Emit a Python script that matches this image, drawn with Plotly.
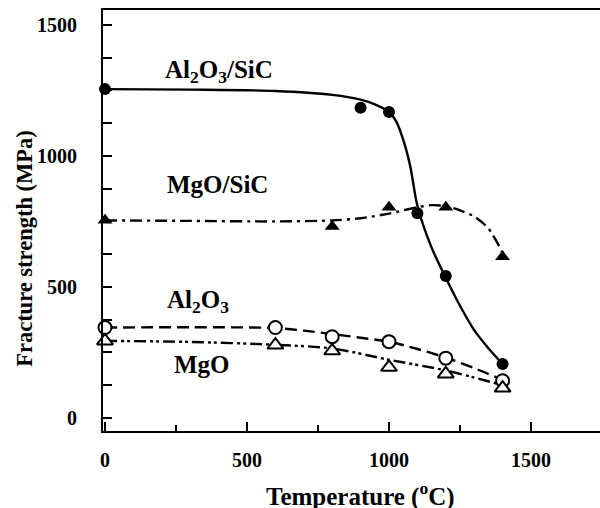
import plotly.graph_objects as go

# ---- measured points (temperature in degC, fracture strength in MPa) ----
temp_al2o3_sic = [0, 900, 1000, 1100, 1200, 1400]
strength_al2o3_sic = [1255, 1184, 1168, 781, 542, 206]

temp_mgo_sic = [0, 800, 1000, 1200, 1400]
strength_mgo_sic = [754, 731, 804, 804, 615]

temp_al2o3 = [0, 600, 800, 1000, 1200, 1400]
strength_al2o3 = [345, 345, 310, 291, 228, 142]

temp_mgo = [0, 600, 800, 1000, 1200, 1400]
strength_mgo = [294, 278, 256, 193, 168, 114]

# ---- hand-drawn trend curves ----
curve_al2o3_sic_x = [0, 300, 600, 800, 900, 950, 1000, 1025, 1050, 1075, 1100, 1150, 1200, 1250, 1300, 1350, 1400]
curve_al2o3_sic_y = [1255, 1253, 1248, 1233, 1215, 1197, 1168, 1133, 1062, 960, 810, 650, 535, 428, 335, 266, 206]

curve_mgo_sic_x = [0, 300, 600, 800, 900, 1000, 1100, 1150, 1200, 1250, 1300, 1350, 1400]
curve_mgo_sic_y = [754, 752, 750, 754, 762, 780, 804, 812, 808, 792, 769, 723, 630]

curve_al2o3_x = [0, 300, 600, 700, 800, 900, 1000, 1100, 1200, 1300, 1400]
curve_al2o3_y = [345, 346, 343, 333, 320, 306, 291, 263, 230, 190, 145]

curve_mgo_x = [0, 300, 600, 800, 1000, 1200, 1400]
curve_mgo_y = [294, 290, 279, 265, 222, 181, 125]

x_ticks = [0, 500, 1000, 1500]
y_ticks = [0, 500, 1000, 1500]

FONT = "Liberation Serif"

fig = go.Figure()

def curve(x, y, dash):
    fig.add_trace(go.Scatter(
        x=x, y=y, mode="lines", hoverinfo="skip", showlegend=False,
        line=dict(color="black", width=2.4, dash=dash, shape="spline", smoothing=0.8),
    ))

def points(x, y, symbol, filled, size):
    fig.add_trace(go.Scatter(
        x=x, y=y, mode="markers", showlegend=False, cliponaxis=False,
        marker=dict(symbol=symbol, size=size,
                    color="black" if filled else "white",
                    line=dict(color="black", width=0 if filled else 2)),
    ))

curve(curve_al2o3_sic_x, curve_al2o3_sic_y, "solid")
curve(curve_mgo_sic_x, curve_mgo_sic_y, "12px,5px,3px,5px")
curve(curve_al2o3_x, curve_al2o3_y, "12px,6px")
curve(curve_mgo_x, curve_mgo_y, "12px,4px,3px,3px,3px,4px")

points(temp_al2o3_sic, strength_al2o3_sic, "circle", True, 12)
points(temp_mgo_sic, strength_mgo_sic, "triangle-up", True, 13)
points(temp_al2o3, strength_al2o3, "circle", False, 13)
points(temp_mgo, strength_mgo, "triangle-up", False, 14)

label_font = dict(family=FONT, size=25, color="black", weight="bold")
for lx, ly, txt in [(401, 1324, "Al<sub>2</sub>O<sub>3</sub>/SiC"),
                    (396, 890, "MgO/SiC"),
                    (327, 443, "Al<sub>2</sub>O<sub>3</sub>"),
                    (343, 202, "MgO")]:
    fig.add_annotation(x=lx, y=ly, text=txt, showarrow=False, font=label_font,
                       xanchor="center", yanchor="middle")

fig.add_annotation(xref="paper", yref="paper", x=0.519, y=-0.152, text="Temperature (<sup>o</sup>C)",
                   showarrow=False, xanchor="center", yanchor="middle",
                   font=dict(family=FONT, size=25, color="black", weight="bold"))
fig.add_annotation(xref="paper", yref="paper", x=-0.157, y=0.435, text="Fracture strength (MPa)",
                   textangle=-90, showarrow=False, xanchor="center", yanchor="middle",
                   font=dict(family=FONT, size=22.5, color="black", weight="bold"))

tick_font = dict(family=FONT, size=20, color="black", weight="bold")

fig.update_xaxes(
    range=[-7, 1743], showline=True, linecolor="black", linewidth=2, mirror=True,
    showgrid=False, zeroline=False, automargin=False,
    tickvals=x_ticks, ticks="inside", ticklen=9, tickwidth=2, tickcolor="black",
    minor=dict(ticks="inside", ticklen=6, tickwidth=1.5, tickcolor="black", dtick=250, tick0=0),
    tickfont=tick_font, ticklabelstandoff=10,
)
fig.update_yaxes(
    range=[-50, 1557], showline=True, linecolor="black", linewidth=2, mirror=False,
    showgrid=False, zeroline=False, automargin=False,
    tickvals=y_ticks, ticks="inside", ticklen=9, tickwidth=2, tickcolor="black",
    minor=dict(ticks="inside", ticklen=9, tickwidth=1.5, tickcolor="black", dtick=125, tick0=0),
    tickfont=tick_font, ticklabelstandoff=20,
)

fig.update_layout(
    width=600, height=508,
    margin=dict(l=103, r=0, t=10, b=77, autoexpand=False),
    plot_bgcolor="white", paper_bgcolor="white",
    showlegend=False,
    font=dict(family=FONT, color="black"),
)

fig.write_html("out.html",
               config={"displayModeBar": False},
               post_script="document.body.style.margin='0px';document.body.style.overflow='hidden';")
